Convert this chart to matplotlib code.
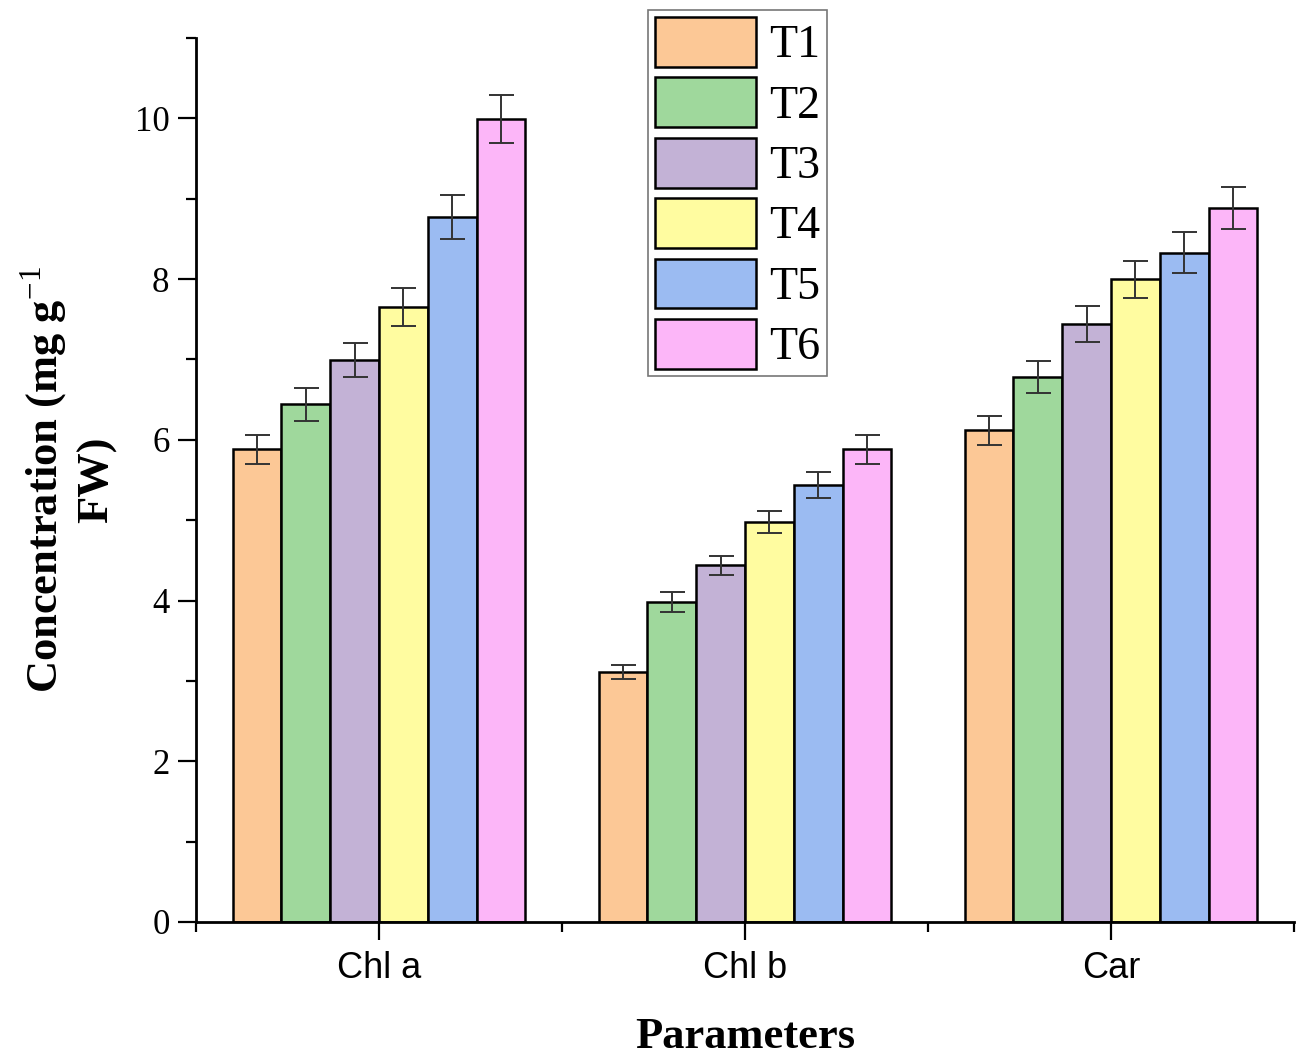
import numpy as np
import matplotlib
matplotlib.use("Agg")
import matplotlib.pyplot as plt
from matplotlib.ticker import MultipleLocator, FixedLocator

plt.rcParams['font.family'] = ['Liberation Serif', 'DejaVu Serif']
plt.rcParams['mathtext.fontset'] = 'custom'
plt.rcParams['mathtext.rm'] = 'Liberation Serif'
plt.rcParams['mathtext.bf'] = 'Liberation Serif:bold'

# data
parameters = ["Chl a", "Chl b", "Car"]
treatments = ["T1", "T2", "T3", "T4", "T5", "T6"]
values = {
    "T1": [5.88, 3.11, 6.12],
    "T2": [6.44, 3.98, 6.78],
    "T3": [6.99, 4.44, 7.44],
    "T4": [7.65, 4.98, 8.00],
    "T5": [8.77, 5.44, 8.33],
    "T6": [9.99, 5.88, 8.88],
}
errors = {
    "T1": [0.18, 0.09, 0.18],
    "T2": [0.20, 0.12, 0.20],
    "T3": [0.21, 0.12, 0.22],
    "T4": [0.24, 0.14, 0.23],
    "T5": [0.27, 0.16, 0.25],
    "T6": [0.30, 0.18, 0.26],
}
colors = ["#FCC896", "#9FD89C", "#C3B2D6", "#FFFCA0", "#9BBBF2", "#FCB6F8"]

fig = plt.figure(figsize=(12.97, 10.55), dpi=100)
ax = fig.add_axes([0.1511, 0.1261, 0.8466, 0.8379])

x = np.arange(1, len(parameters) + 1)
width = 0.1333
for i, t in enumerate(treatments):
    pos = x + (i - 2.5) * width
    ax.bar(pos, values[t], width, color=colors[i], edgecolor='black',
           linewidth=1.8, label=t, zorder=2)
    ax.errorbar(pos, values[t], yerr=errors[t], fmt='none', ecolor='#333333',
                elinewidth=1.4, capsize=9, capthick=1.4, zorder=3)

ax.set_xlim(0.5, 3.5)
ax.set_ylim(0, 11)
ax.spines['top'].set_visible(False)
ax.spines['right'].set_visible(False)
ax.spines['left'].set_linewidth(2)
ax.spines['bottom'].set_linewidth(2)

ax.yaxis.set_major_locator(MultipleLocator(2))
ax.yaxis.set_minor_locator(MultipleLocator(1))
ax.set_xticks(x)
ax.set_xticklabels(parameters, fontfamily='Liberation Sans', fontsize=26)
ax.xaxis.set_minor_locator(FixedLocator([0.5, 1.5, 2.5, 3.5]))
ax.tick_params(axis='both', which='major', length=13, width=1.6, direction='out')
ax.tick_params(axis='both', which='minor', length=7, width=1.6, direction='out')
ax.tick_params(axis='y', labelsize=25, pad=6)
ax.tick_params(axis='x', pad=8)

ax.set_xlabel("Parameters", fontsize=32, fontweight='bold', labelpad=22)
ax.set_ylabel("Concentration (mg g$^{-1}$\nFW)", fontsize=32, fontweight='bold',
              linespacing=1.2)
ax.yaxis.set_label_coords(-0.072, 0.5)

leg = ax.legend(loc='upper left', bbox_to_anchor=(648 / 1297, 1 - 10 / 1055),
                bbox_transform=fig.transFigure, fontsize=33, frameon=True,
                fancybox=False, handlelength=2.2, handleheight=1.3,
                labelspacing=0.22, handletextpad=0.3, borderpad=0.15,
                borderaxespad=0)
leg.get_frame().set_edgecolor('#555555')
leg.get_frame().set_linewidth(1.2)

fig.savefig("out.png", dpi=100)
